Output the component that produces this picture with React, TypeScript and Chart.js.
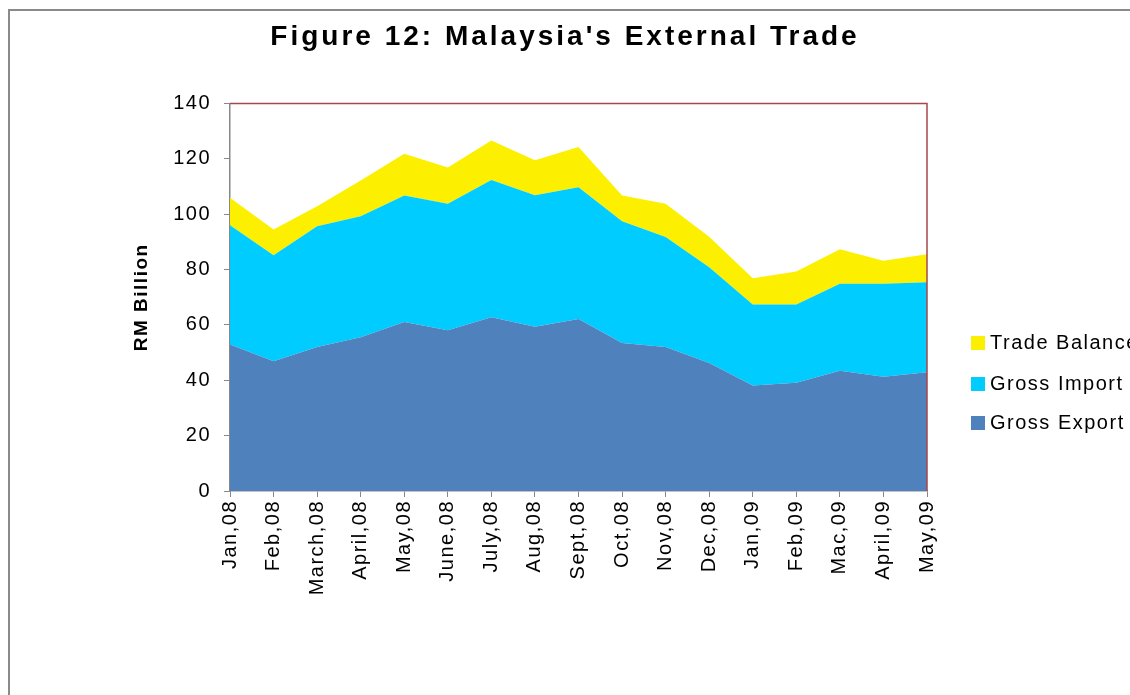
import React, { useEffect, useRef } from "react";
import { Chart, registerables } from "chart.js";

Chart.register(...registerables);

const months = [
  "Jan,08", "Feb,08", "March,08", "April,08", "May,08", "June,08", "July,08", "Aug,08",
  "Sept,08", "Oct,08", "Nov,08", "Dec,08", "Jan,09", "Feb,09", "Mac,09", "April,09", "May,09",
];
const grossExport = [52.9, 46.9, 52.0, 55.6, 61.1, 58.1, 62.8, 59.4, 62.2, 53.5, 52.0, 46.3, 38.1, 39.1, 43.5, 41.3, 42.9];
const grossImport = [43.1, 38.3, 43.7, 43.7, 45.7, 45.7, 49.6, 47.5, 47.6, 44.0, 39.8, 34.6, 29.3, 28.3, 31.4, 33.6, 32.5];
const tradeBalance = [10.0, 9.3, 7.2, 12.9, 15.1, 13.1, 14.3, 12.6, 14.5, 9.3, 12.0, 11.0, 9.5, 11.9, 12.5, 8.3, 10.2];
const yTicks = [0, 20, 40, 60, 80, 100, 120, 140];

const FONT = "'Liberation Sans', Arial, sans-serif";

const framePlugin = {
  id: "frame",
  beforeUpdate(chart: any) {
    chart.ctx.letterSpacing = "1.5px";
  },
  afterLayout(chart: any) {
    const tb = chart.titleBlock;
    if (tb && !tb.__wrapped) {
      const orig = tb.draw;
      tb.draw = function (...args: any[]) {
        const ctx = chart.ctx;
        ctx.save();
        ctx.letterSpacing = "3px";
        orig.apply(tb, args);
        ctx.restore();
      };
      tb.__wrapped = true;
    }
  },
  beforeDraw(chart: any) {
    const ctx = chart.ctx;
    ctx.letterSpacing = "1.5px";
    ctx.save();
    ctx.fillStyle = "#ffffff";
    ctx.fillRect(0, 0, chart.width, chart.height);
    ctx.strokeStyle = "#8a8a8a";
    ctx.lineWidth = 2;
    ctx.beginPath();
    ctx.moveTo(9, chart.height);
    ctx.lineTo(9, 10);
    ctx.lineTo(chart.width, 10);
    ctx.stroke();
    ctx.restore();
  },
  afterDatasetsDraw(chart: any) {
    const { ctx, chartArea } = chart;
    ctx.save();
    ctx.strokeStyle = "#a5474b";
    ctx.lineWidth = 1.5;
    ctx.beginPath();
    ctx.moveTo(chartArea.left, chartArea.top);
    ctx.lineTo(chartArea.right, chartArea.top);
    ctx.lineTo(chartArea.right, chartArea.bottom);
    ctx.stroke();
    ctx.restore();
  },
  afterDraw(chart: any) {
    const ctx = chart.ctx;
    ctx.save();
    ctx.font = `20px ${FONT}`;
    ctx.textBaseline = "middle";
    ctx.textAlign = "left";
    const ds = chart.data.datasets.slice().reverse();
    const ys = [343, 384, 423];
    ds.forEach((d: any, i: number) => {
      ctx.fillStyle = d.backgroundColor;
      ctx.fillRect(971, ys[i] - 7, 14, 14);
      ctx.fillStyle = "#000000";
      ctx.fillText(d.label, 990, ys[i]);
    });
    ctx.restore();
  },
};

export default function App() {
  const ref = useRef<HTMLCanvasElement | null>(null);
  useEffect(() => {
    if (!ref.current) return;
    const chart = new Chart(ref.current, {
      type: "line",
      data: {
        labels: months,
        datasets: [
          { label: "Gross Export", data: grossExport, backgroundColor: "#4f81bd", borderWidth: 0, pointRadius: 0, fill: "origin", tension: 0 },
          { label: "Gross Import", data: grossImport, backgroundColor: "#00ccff", borderWidth: 0, pointRadius: 0, fill: "-1", tension: 0 },
          { label: "Trade Balance", data: tradeBalance, backgroundColor: "#fcf000", borderWidth: 0, pointRadius: 0, fill: "-1", tension: 0 },
        ],
      },
      options: {
        animation: false,
        responsive: false,
        layout: { padding: { left: 0, right: 0, top: 0, bottom: 0 } },
        plugins: {
          legend: { display: false },
          tooltip: { enabled: false },
          title: {
            display: true,
            text: "Figure 12: Malaysia's External Trade",
            color: "#000000",
            font: { family: FONT, size: 28, weight: "bold" },
            padding: { top: 20, bottom: 50 },
          },
        },
        scales: {
          x: {
            offset: false,
            grid: { display: true, drawOnChartArea: false, drawTicks: true, tickLength: 6, color: "#888888" },
            border: { display: true, color: "#888888", width: 1.5 },
            ticks: { color: "#000000", font: { family: FONT, size: 20 }, minRotation: 90, maxRotation: 90, autoSkip: false, padding: 3 },
            afterFit: (s: any) => { s.height = 204; },
          },
          y: {
            stacked: true,
            min: 0,
            max: 140,
            afterBuildTicks: (s: any) => { s.ticks = yTicks.map((v) => ({ value: v })); },
            grid: { display: true, drawOnChartArea: false, drawTicks: true, tickLength: 6, color: "#888888" },
            border: { display: true, color: "#888888", width: 1.5 },
            ticks: { color: "#000000", font: { family: FONT, size: 20 }, padding: 13 },
            title: { display: true, text: "RM Billion", color: "#000000", font: { family: FONT, size: 19, weight: "bold" }, padding: { top: 130, bottom: 0 } },
            afterFit: (s: any) => { s.width = 230; },
          },
          yRight: {
            position: "right",
            display: true,
            grid: { display: false },
            border: { display: false },
            ticks: { display: false },
            afterFit: (s: any) => { s.width = 203; },
          },
        },
      } as any,
      plugins: [framePlugin],
    });
    return () => chart.destroy();
  }, []);
  return (
    <div style={{ position: "absolute", left: 0, top: 0, width: 1130, height: 695 }}>
      <canvas ref={ref} width={1130} height={695} style={{ width: 1130, height: 695 }} />
    </div>
  );
}
